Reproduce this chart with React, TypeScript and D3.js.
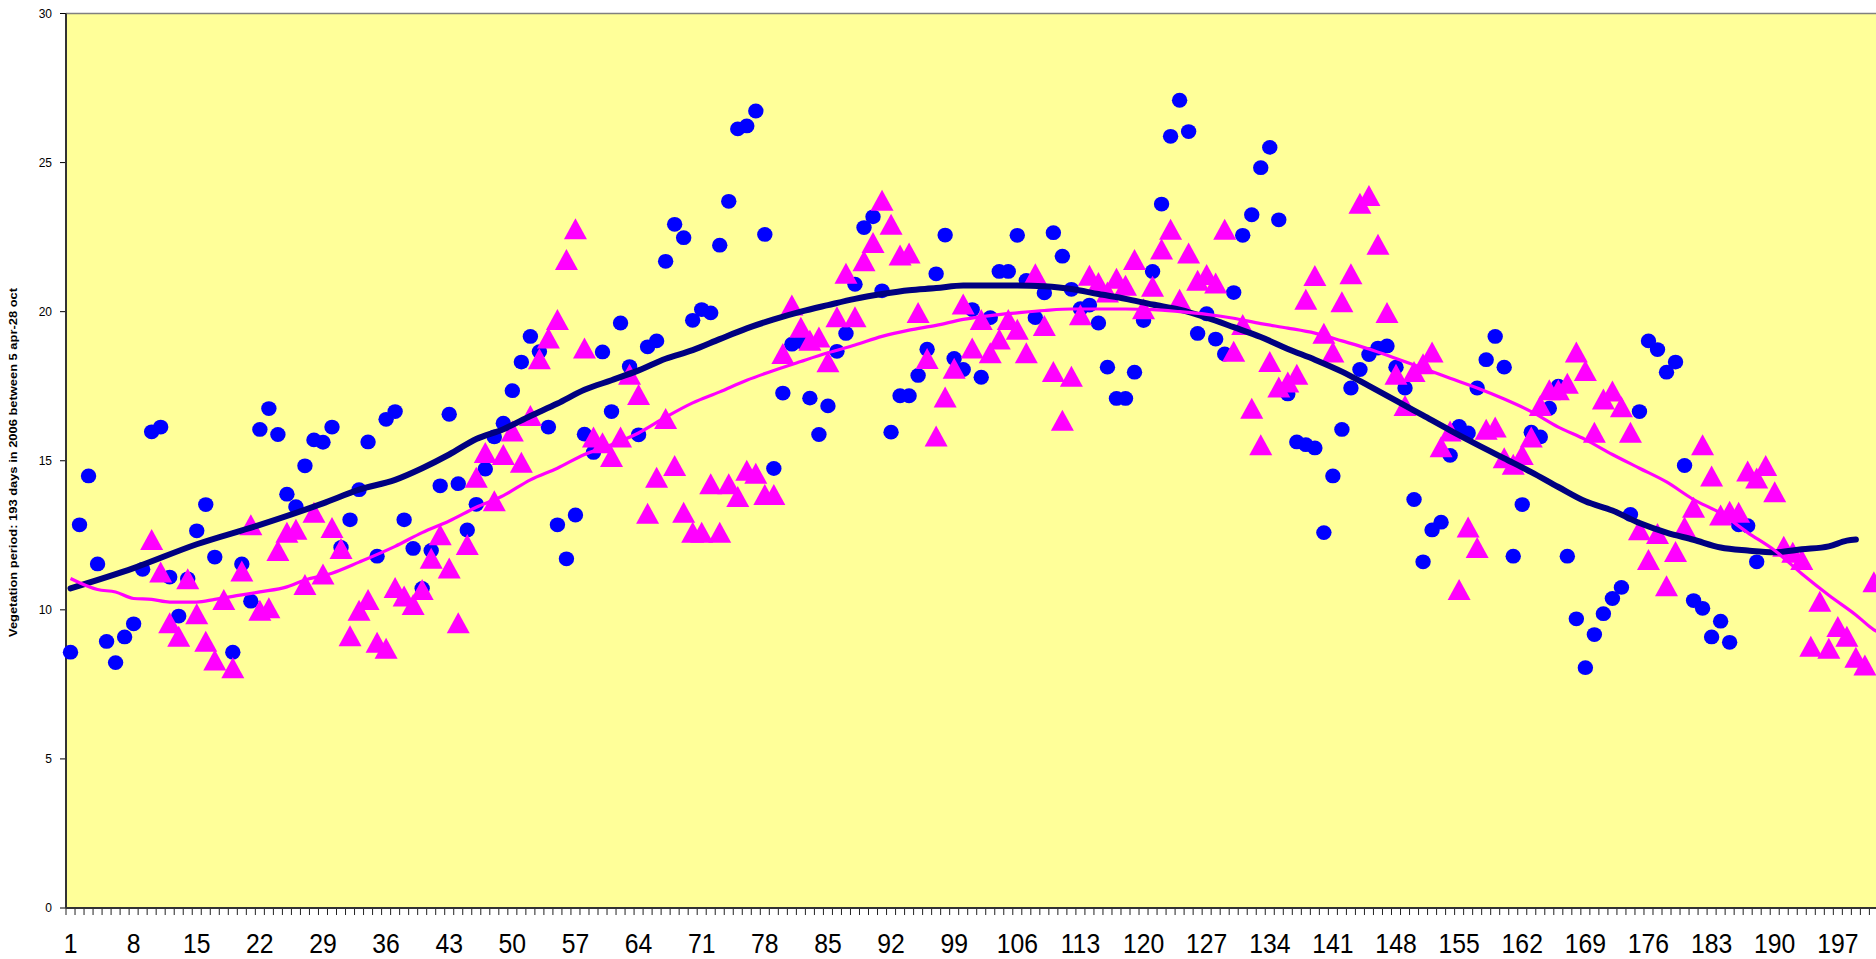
import * as d3 from "d3";

// day numbers on the category axis (the chart runs past the right edge)
const days = d3.range(1, 204);
const labelEvery = 7;
const yTicks = [0, 5, 10, 15, 20, 25, 30];
const yTitle = "Vegetation period: 193 days in 2006 between 5 apr-28 oct";

// blue circles, day 1..188 (null = hidden)
const blueStart = 1;
const blueValues: (number | null)[] = [
  8.58, 12.85, 14.49, 11.54, 8.94, 8.23, 9.09, 9.53, 11.36, 15.97,
  16.13, 11.1, 9.79, 11.04, 12.65, 13.53, 11.77, null, 8.58, 11.54,
  10.29, 16.05, 16.75, 15.88, 13.88, 13.46, 14.83, 15.7, 15.62, 16.13,
  12.09, 13.02, 14.03, 15.63, 11.8, 16.39, 16.65, 13.02, 12.06, 10.72,
  11.99, 14.16, 16.56, 14.23, 12.68, 13.54, 14.72, 15.8, 16.26, 17.35,
  18.31, 19.17, 18.66, 16.13, 12.85, 11.71, 13.18, 15.89, 15.28, 18.65,
  16.65, 19.62, 18.16, 15.87, 18.82, 19.02, 21.69, 22.93, 22.48, 19.71,
  20.07, 19.96, 22.23, 23.7, 26.13, 26.23, 26.73, 22.59, 14.74, 17.27,
  18.91, 19.0, 17.1, 15.88, 16.84, 18.67, 19.27, 20.92, 22.82, 23.18,
  20.7, 15.96, 17.18, 17.18, 17.86, 18.74, 21.27, 22.57, 18.43, 18.06,
  20.07, 17.8, 19.8, 21.35, 21.35, 22.56, 21.05, 19.8, 20.63, 22.65,
  21.86, 20.75, 20.1, 20.22, 19.62, 18.14, 17.09, 17.09, 17.97, 19.7,
  21.35, 23.61, 25.88, 27.09, 26.04, 19.27, 19.93, 19.08, 18.58, 20.64,
  22.56, 23.25, 24.83, 25.51, 23.08, 17.24, 15.63, 15.54, 15.43, 12.59,
  14.49, 16.05, 17.44, 18.06, 18.56, 18.78, 18.85, 18.14, 17.44, 13.7,
  11.61, 12.68, 12.94, 15.18, 16.15, 15.93, 17.44, 18.39, 19.17, 18.14,
  11.8, 13.53, 15.96, 15.8, 16.76, 17.5, 11.8, 9.7, 8.06, 9.17,
  9.87, 10.38, 10.75, 13.2, 16.65, 19.02, 18.73, 17.97, 18.31, 14.84,
  10.31, 10.05, 9.09, 9.62, 8.91, 12.85, 12.82, 11.61,
];

// magenta triangles, day 10..201
const pinkStart = 10;
const pinkValues = [
  12.36, 11.27, 9.57, 9.11, 11.04, 9.87, 8.95, 8.32, 10.35, 8.06,
  11.3, 12.85, 9.99, 10.07, 11.99, 12.6, 12.7, 10.85, 13.27, 11.2,
  12.76, 12.06, 9.13, 9.99, 10.35, 8.91, 8.71, 10.75, 10.46, 10.18,
  10.68, 11.73, 12.52, 11.4, 9.57, 12.19, 14.45, 15.28, 13.66, 15.21,
  16.0, 14.95, 16.52, 18.42, 19.12, 19.74, 21.75, 22.78, 18.78, 15.8,
  15.6, 15.14, 15.8, 17.9, 17.22, 13.24, 14.45, 16.42, 14.84, 13.27,
  12.6, 12.6, 14.23, 12.6, 14.23, 13.8, 14.68, 14.58, 13.87, 13.87,
  18.6, 20.22, 19.48, 19.04, 19.15, 18.32, 19.83, 21.29, 19.83, 21.71,
  22.32, 23.74, 22.93, 21.9, 21.97, 19.97, 18.43, 15.83, 17.14, 18.1,
  20.26, 18.78, 19.74, 18.62, 19.08, 19.74, 19.41, 18.62, 21.27, 19.54,
  17.99, 16.36, 17.83, 19.9, 21.22, 20.98, 20.66, 21.12, 20.89, 21.75,
  20.1, 20.85, 22.1, 22.76, 20.42, 21.97, 21.05, 21.25, 20.96, 22.76,
  18.67, 19.57, 16.76, 15.54, 18.33, 17.47, 17.64, 17.9, 20.42, 21.21,
  19.28, 18.65, 20.33, 21.27, 23.64, 23.9, 22.26, 19.97, 17.9, 16.85,
  17.99, 18.25, 18.65, 15.47, 16.0, 10.68, 12.78, 12.09, 16.06, 16.13,
  15.1, 14.88, 15.21, 15.8, 16.85, 17.38, 17.38, 17.6, 18.65, 18.03,
  15.96, 17.07, 17.34, 16.81, 15.96, 12.69, 11.69, 12.56, 10.81, 11.96,
  12.78, 13.44, 15.54, 14.49, 13.18, 13.31, 13.27, 14.66, 14.42, 14.84,
  13.96, 12.13, 11.93, 11.69, 8.78, 10.29, 8.71, 9.44, 9.11, 8.41,
  8.15, 10.94,
];

// navy trend line
const navyDays = [
  1, 8, 15, 22, 29, 33, 37, 40, 43, 46, 49, 52, 55, 58, 61, 64, 67, 70, 73,
  76, 79, 82, 85, 88, 91, 94, 97, 100, 103, 106, 109, 112, 115, 118, 121,
  124, 127, 130, 133, 136, 139, 142, 145, 148, 151, 154, 157, 160, 163, 166,
  169, 172, 175, 178, 181, 184, 187, 190, 193, 196, 198, 199,
];
const navyValues = [
  10.72, 11.4, 12.2, 12.85, 13.57, 14.03, 14.36, 14.75, 15.21, 15.73, 16.06,
  16.5, 16.92, 17.38, 17.7, 18.03, 18.42, 18.71, 19.08, 19.44, 19.74, 20.0,
  20.22, 20.43, 20.59, 20.72, 20.79, 20.88, 20.88, 20.88, 20.85, 20.76, 20.59,
  20.43, 20.24, 20.07, 19.8, 19.48, 19.15, 18.75, 18.39, 17.99, 17.51, 17.02,
  16.52, 16.02, 15.54, 15.08, 14.62, 14.12, 13.64, 13.33, 12.91, 12.59,
  12.35, 12.09, 11.99, 11.93, 12.03, 12.13, 12.32, 12.36,
];

// magenta trend line
const pinkTrendDays = [
  1, 4, 6, 8, 10, 12, 15, 17, 19, 22, 25, 27, 30, 33, 37, 40, 43, 46, 49, 52,
  55, 58, 61, 64, 67, 70, 73, 76, 79, 82, 85, 88, 91, 94, 97, 100, 103, 106,
  109, 112, 115, 118, 121, 124, 127, 130, 133, 136, 139, 142, 145, 148, 151,
  154, 157, 160, 163, 166, 169, 172, 175, 178, 181, 184, 187, 190, 193, 196,
  199, 201, 202,
];
const pinkTrendValues = [
  11.05, 10.68, 10.6, 10.38, 10.35, 10.26, 10.26, 10.35, 10.45, 10.6, 10.77,
  11.0, 11.23, 11.6, 12.13, 12.59, 12.98, 13.44, 13.83, 14.36, 14.75, 15.21,
  15.54, 15.93, 16.46, 16.94, 17.31, 17.7, 18.03, 18.33, 18.62, 18.88, 19.17,
  19.38, 19.54, 19.74, 19.87, 19.96, 20.04, 20.09, 20.09, 20.09, 20.07, 20.0,
  19.91, 19.78, 19.6, 19.45, 19.28, 19.02, 18.75, 18.43, 18.1, 17.77, 17.44,
  17.07, 16.65, 16.13, 15.71, 15.21, 14.75, 14.29, 13.7, 13.24, 12.59, 11.99,
  11.21, 10.49, 9.83, 9.33, 9.17,
];

const W = 1876;
const H = 959;
const left = 66;
const top = 13.5;
const bottom = 908;
const step = 9.017;

export default function App() {
  const x = d3
    .scaleBand<number>()
    .domain(days)
    .range([left, left + days.length * step])
    .padding(0);
  const cx = (d: number) => (x(d) ?? 0) + x.bandwidth() / 2;
  const y = d3.scaleLinear().domain([0, 30]).range([bottom, top]);

  const blue = blueValues
    .map((v, i) => ({ day: blueStart + i, v }))
    .filter((d) => d.v !== null) as { day: number; v: number }[];
  const pink = pinkValues.map((v, i) => ({ day: pinkStart + i, v }));

  const line = d3
    .line<[number, number]>()
    .x((d) => cx(d[0]))
    .y((d) => y(d[1]))
    .curve(d3.curveMonotoneX);
  const navyPath = line(navyDays.map((d, i) => [d, navyValues[i]]));
  const pinkPath = line(pinkTrendDays.map((d, i) => [d, pinkTrendValues[i]]));

  const tri = (px: number, py: number) =>
    `M${px},${py - 10.5}L${px + 11.5},${py + 10.5}L${px - 11.5},${py + 10.5}Z`;

  const plotRight = W + 20;

  return (
    <div style={{ position: "absolute", left: 0, top: 0 }}>
      <svg width={W} height={H} style={{ display: "block", background: "#fff" }}>
        <rect x={left} y={top} width={plotRight - left} height={bottom - top} fill="#FFFF99" />
        <line x1={left} x2={plotRight} y1={top} y2={top} stroke="#808080" strokeWidth={1.5} />

        {/* y axis */}
        {yTicks.map((t) => (
          <g key={t}>
            <line x1={left - 6} x2={left} y1={y(t)} y2={y(t)} stroke="#000" strokeWidth={1} />
            <text
              x={52}
              y={y(t)}
              dy="0.35em"
              textAnchor="end"
              fontFamily="Liberation Sans, Arial, sans-serif"
              fontSize={12}
            >
              {t}
            </text>
          </g>
        ))}
        <text
          transform={`translate(17,462.5) rotate(-90)`}
          textAnchor="middle"
          fontFamily="Liberation Sans Narrow, Arial Narrow, Liberation Sans, Arial, sans-serif"
          fontWeight="bold"
          fontSize={11.5}
          textLength={349}
          lengthAdjust="spacingAndGlyphs"
        >
          {yTitle}
        </text>

        {/* x axis ticks and labels */}
        {days.map((d) => (
          <line
            key={d}
            x1={x(d)}
            x2={x(d)}
            y1={bottom}
            y2={bottom + 7}
            stroke="#222"
            strokeWidth={1}
          />
        ))}
        {days
          .filter((d) => (d - 1) % labelEvery === 0)
          .map((d) => (
            <text
              key={d}
              transform={`translate(${cx(d)},953) scale(0.9,1)`}
              textAnchor="middle"
              fontFamily="Liberation Sans, Arial, sans-serif"
              fontSize={27.5}
            >
              {d}
            </text>
          ))}

        <line x1={left} x2={W} y1={bottom} y2={bottom} stroke="#333" strokeWidth={2} />
        <line x1={left} x2={left} y1={top} y2={bottom} stroke="#333" strokeWidth={2} />

        {/* points */}
        {blue.map((d) => (
          <ellipse key={d.day} cx={cx(d.day)} cy={y(d.v)} rx={7.7} ry={7.4} fill="#0000FF" />
        ))}
        {pink.map((d) => (
          <path key={d.day} d={tri(cx(d.day), y(d.v))} fill="#FF00FF" />
        ))}

        {/* trend lines */}
        <path d={navyPath ?? ""} fill="none" stroke="#000080" strokeWidth={6} strokeLinecap="round" strokeLinejoin="round" />
        <path d={pinkPath ?? ""} fill="none" stroke="#FF00FF" strokeWidth={3.2} strokeLinejoin="round" />
      </svg>
    </div>
  );
}
